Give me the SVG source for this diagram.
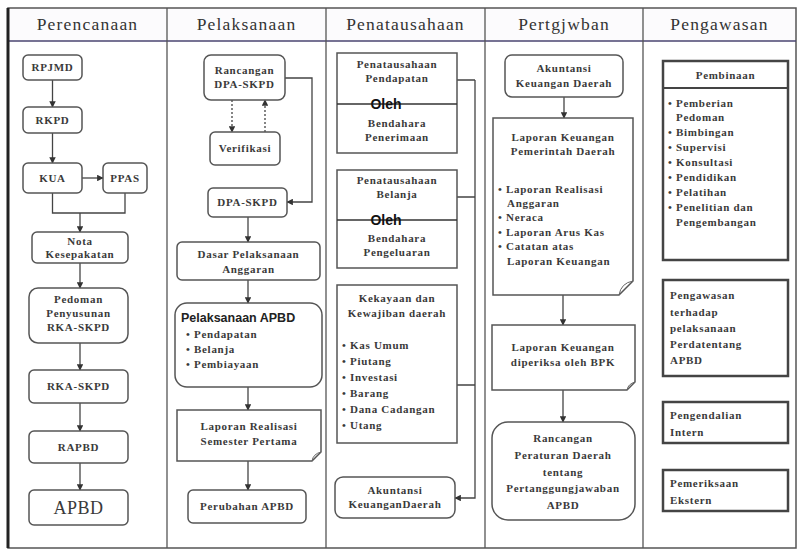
<svg xmlns="http://www.w3.org/2000/svg" width="800" height="552" viewBox="0 0 800 552">
<style>
.bx{fill:#fff;stroke:#555;stroke-width:1.5}
.bx2{fill:#fff;stroke:#444;stroke-width:2.5}
.t{font-family:"Liberation Serif",serif;font-weight:bold;font-size:11px;fill:#3a3a3a;text-anchor:middle;letter-spacing:0.7px}
.tl{font-family:"Liberation Serif",serif;font-weight:bold;font-size:11px;fill:#3a3a3a;letter-spacing:0.7px}
.h{font-family:"Liberation Serif",serif;font-size:17.5px;fill:#333;text-anchor:middle;letter-spacing:1.2px}
.c{fill:none;stroke:#444;stroke-width:1.3}
.d{fill:none;stroke:#444;stroke-width:1.3;stroke-dasharray:2 2}
.ol{font-family:"Liberation Sans",sans-serif;font-weight:bold;font-size:14px;fill:#111;text-anchor:middle}
</style>
<defs>
<marker id="ar" viewBox="0 0 10 10" refX="9" refY="5" markerWidth="5" markerHeight="5" orient="auto">
<path d="M0 0 L10 5 L0 10 Z" fill="#333"/>
</marker>
</defs>
<rect x="0" y="0" width="800" height="552" fill="#fff"/>
<g id="frame">
<rect x="8" y="8" width="788" height="33" fill="#fcfbfd"/>
<path d="M8 8 H796 V548 H8 Z" fill="none" stroke="#555" stroke-width="1.5"/>
<line x1="8" y1="41" x2="796" y2="41" stroke="#4a4470" stroke-width="1.5"/>
<line x1="8" y1="8" x2="8" y2="548" stroke="#222" stroke-width="3"/>
<line x1="167" y1="8" x2="167" y2="548" stroke="#555" stroke-width="1.3"/>
<line x1="326" y1="8" x2="326" y2="548" stroke="#555" stroke-width="1.3"/>
<line x1="485" y1="8" x2="485" y2="548" stroke="#555" stroke-width="1.3"/>
<line x1="643" y1="8" x2="643" y2="548" stroke="#555" stroke-width="1.3"/>
<text class="h" x="87.5" y="30">Perencanaan</text>
<text class="h" x="246.5" y="30">Pelaksanaan</text>
<text class="h" x="405.5" y="30">Penatausahaan</text>
<text class="h" x="564" y="30">Pertgjwban</text>
<text class="h" x="719.5" y="30">Pengawasan</text>
</g>
<g id="connectors">
<path class="c" d="M52.5 80 V107" marker-end="url(#ar)"/>
<path class="c" d="M52.5 133 V163" marker-end="url(#ar)"/>
<path class="c" d="M82 178 H103" marker-end="url(#ar)"/>
<path class="c" d="M52.5 193 V213 H125 V193"/>
<path class="c" d="M80 213 V232" marker-end="url(#ar)"/>
<path class="c" d="M80 263 V288" marker-end="url(#ar)"/>
<path class="c" d="M80 343 V370" marker-end="url(#ar)"/>
<path class="c" d="M80 403 V431" marker-end="url(#ar)"/>
<path class="c" d="M80 463 V490" marker-end="url(#ar)"/>
<path class="d" d="M232 100 V132" marker-end="url(#ar)"/>
<path class="d" d="M265 132 V100" marker-end="url(#ar)"/>
<path class="c" d="M285 78 H312 V202 H287" marker-end="url(#ar)"/>
<path class="c" d="M248 217 V242" marker-end="url(#ar)"/>
<path class="c" d="M248 280 V303" marker-end="url(#ar)"/>
<path class="c" d="M248 387 V410" marker-end="url(#ar)"/>
<path class="c" d="M248 461 V490" marker-end="url(#ar)"/>
<path class="c" d="M457 80 H475 M457 197 H475 M457 385 H475"/>
<path class="c" d="M475 80 V498 H455" marker-end="url(#ar)"/>
<path class="c" d="M564 97 V118" marker-end="url(#ar)"/>
<path class="c" d="M563 295 V325" marker-end="url(#ar)"/>
<path class="c" d="M563 390 V422" marker-end="url(#ar)"/>
</g>
<g id="rpjmd"><rect class="bx" x="23" y="55" width="59" height="25" rx="5"/><text class="t" x="52.5" y="71">RPJMD</text></g>
<g id="rkpd"><rect class="bx" x="23" y="107" width="59" height="26" rx="5"/><text class="t" x="52.5" y="124">RKPD</text></g>
<g id="kua"><rect class="bx" x="23" y="163" width="59" height="30" rx="5"/><text class="t" x="52.5" y="182">KUA</text></g>
<g id="ppas"><rect class="bx" x="103" y="163" width="44" height="30" rx="5"/><text class="t" x="125" y="182">PPAS</text></g>
<g id="nota"><rect class="bx" x="32" y="232" width="96" height="31" rx="5"/><text class="t" x="80" y="245">Nota</text><text class="t" x="80" y="258">Kesepakatan</text></g>
<g id="pedoman"><rect class="bx" x="29" y="288" width="99" height="55" rx="9"/><text class="t" x="78.5" y="303">Pedoman</text><text class="t" x="78.5" y="317">Penyusunan</text><text class="t" x="78.5" y="331">RKA-SKPD</text></g>
<g id="rkaskpd"><rect class="bx" x="29" y="370" width="99" height="33" rx="5"/><text class="t" x="78.5" y="390">RKA-SKPD</text></g>
<g id="rapbd"><rect class="bx" x="29" y="431" width="99" height="32" rx="5"/><text class="t" x="78.5" y="451">RAPBD</text></g>
<g id="apbd"><rect class="bx" x="29" y="490" width="99" height="35" rx="5"/><text class="t" x="78.5" y="514" style="font-size:18px;font-weight:normal;letter-spacing:0.5px">APBD</text></g>
<g id="rancangan-dpa"><rect class="bx" x="204" y="55" width="81" height="45" rx="7"/><text class="t" x="244.5" y="74">Rancangan</text><text class="t" x="244.5" y="88">DPA-SKPD</text></g>
<g id="verifikasi"><rect class="bx" x="210" y="132" width="70" height="33" rx="5"/><text class="t" x="245" y="152">Verifikasi</text></g>
<g id="dpa-skpd"><rect class="bx" x="208" y="188" width="79" height="29" rx="5"/><text class="t" x="247.5" y="206">DPA-SKPD</text></g>
<g id="dasar"><rect class="bx" x="177" y="242" width="143" height="38" rx="5"/><text class="t" x="248.5" y="258">Dasar Pelaksanaan</text><text class="t" x="248.5" y="273">Anggaran</text></g>
<g id="pelaksanaan-apbd"><rect class="bx" x="175" y="303" width="147" height="84" rx="12"/><text x="181" y="322" style="font-family:'Liberation Sans',sans-serif;font-weight:bold;font-size:12.5px;fill:#222">Pelaksanaan APBD</text><text class="tl" x="186" y="338">• Pendapatan</text><text class="tl" x="186" y="353">• Belanja</text><text class="tl" x="186" y="368">• Pembiayaan</text></g>
<g id="laporan-realisasi"><path class="bx" d="M177 410 H321 V452 L312 461 H177 Z"/><path class="c" d="M312 461 Q313 454 321 452" style="stroke:#666;stroke-width:1"/><text class="t" x="249" y="430">Laporan Realisasi</text><text class="t" x="249" y="445">Semester Pertama</text></g>
<g id="perubahan-apbd"><rect class="bx" x="188" y="490" width="118" height="33" rx="5"/><text class="t" x="247" y="510">Perubahan APBD</text></g>
<g id="penatausahaan-pendapatan"><rect class="bx" x="337" y="53" width="120" height="100"/><line x1="337" y1="104" x2="457" y2="104" stroke="#333" stroke-width="1.5"/><text class="t" x="397" y="68">Penatausahaan</text><text class="t" x="397" y="82">Pendapatan</text><text class="ol" x="386" y="109">Oleh</text><text class="t" x="397" y="127">Bendahara</text><text class="t" x="397" y="141">Penerimaan</text></g>
<g id="penatausahaan-belanja"><rect class="bx" x="337" y="170" width="120" height="98"/><line x1="337" y1="220" x2="457" y2="220" stroke="#333" stroke-width="1.5"/><text class="t" x="397" y="184">Penatausahaan</text><text class="t" x="397" y="198">Belanja</text><text class="ol" x="386" y="225">Oleh</text><text class="t" x="397" y="242">Bendahara</text><text class="t" x="397" y="256">Pengeluaran</text></g>
<g id="kekayaan"><rect class="bx" x="337" y="285" width="120" height="158"/><text class="t" x="397" y="302">Kekayaan dan</text><text class="t" x="397" y="317">Kewajiban daerah</text><text class="tl" x="342" y="349">• Kas Umum</text><text class="tl" x="342" y="365">• Piutang</text><text class="tl" x="342" y="381">• Investasi</text><text class="tl" x="342" y="397">• Barang</text><text class="tl" x="342" y="413">• Dana Cadangan</text><text class="tl" x="342" y="429">• Utang</text></g>
<g id="akuntansi-3"><rect class="bx" x="335" y="477" width="120" height="41" rx="8"/><text class="t" x="395" y="494">Akuntansi</text><text class="t" x="395" y="508">KeuanganDaerah</text></g>
<g id="akuntansi-4"><rect class="bx" x="505" y="55" width="118" height="42" rx="7"/><text class="t" x="564" y="72">Akuntansi</text><text class="t" x="564" y="87">Keuangan Daerah</text></g>
<g id="laporan-keuangan-pemda"><path class="bx" d="M493 118 H633 V281 L619 295 H493 Z"/><path class="c" d="M619 295 Q621 283 633 281" style="stroke:#666;stroke-width:1"/><text class="t" x="563" y="141">Laporan Keuangan</text><text class="t" x="563" y="155">Pemerintah Daerah</text><text class="tl" x="498" y="193">• Laporan Realisasi</text><text class="tl" x="507" y="207">Anggaran</text><text class="tl" x="498" y="221">• Neraca</text><text class="tl" x="498" y="236">• Laporan Arus Kas</text><text class="tl" x="498" y="250">• Catatan atas</text><text class="tl" x="507" y="265">Laporan Keuangan</text></g>
<g id="laporan-bpk"><path class="bx" d="M492 325 H635 V382 L627 390 H492 Z"/><path class="c" d="M627 390 Q628 384 635 382" style="stroke:#666;stroke-width:1"/><text class="t" x="563" y="351">Laporan Keuangan</text><text class="t" x="563" y="366">diperiksa oleh BPK</text></g>
<g id="raperda"><rect class="bx" x="492" y="422" width="143" height="98" rx="16"/><text class="t" x="563" y="442">Rancangan</text><text class="t" x="563" y="459">Peraturan Daerah</text><text class="t" x="563" y="476">tentang</text><text class="t" x="563" y="492">Pertanggungjawaban</text><text class="t" x="563" y="509">APBD</text></g>
<g id="pembinaan"><rect class="bx2" x="663" y="61" width="125" height="199"/><line x1="663" y1="88" x2="788" y2="88" stroke="#444" stroke-width="2"/><text class="t" x="725.5" y="79">Pembinaan</text><text class="tl" x="668" y="107">• Pemberian</text><text class="tl" x="676" y="121">Pedoman</text><text class="tl" x="668" y="136">• Bimbingan</text><text class="tl" x="668" y="151">• Supervisi</text><text class="tl" x="668" y="166">• Konsultasi</text><text class="tl" x="668" y="181">• Pendidikan</text><text class="tl" x="668" y="196">• Pelatihan</text><text class="tl" x="668" y="211">• Penelitian dan</text><text class="tl" x="676" y="226">Pengembangan</text></g>
<g id="pengawasan-perda"><rect class="bx2" x="663" y="280" width="125" height="96"/><text class="tl" x="670" y="299">Pengawasan</text><text class="tl" x="670" y="316">terhadap</text><text class="tl" x="670" y="332">pelaksanaan</text><text class="tl" x="670" y="348">Perdatentang</text><text class="tl" x="670" y="364">APBD</text></g>
<g id="pengendalian"><rect class="bx2" x="663" y="402" width="125" height="41"/><text class="tl" x="670" y="419">Pengendalian</text><text class="tl" x="670" y="436">Intern</text></g>
<g id="pemeriksaan"><rect class="bx2" x="663" y="470" width="125" height="41"/><text class="tl" x="670" y="487">Pemeriksaan</text><text class="tl" x="670" y="504">Ekstern</text></g>
</svg>
